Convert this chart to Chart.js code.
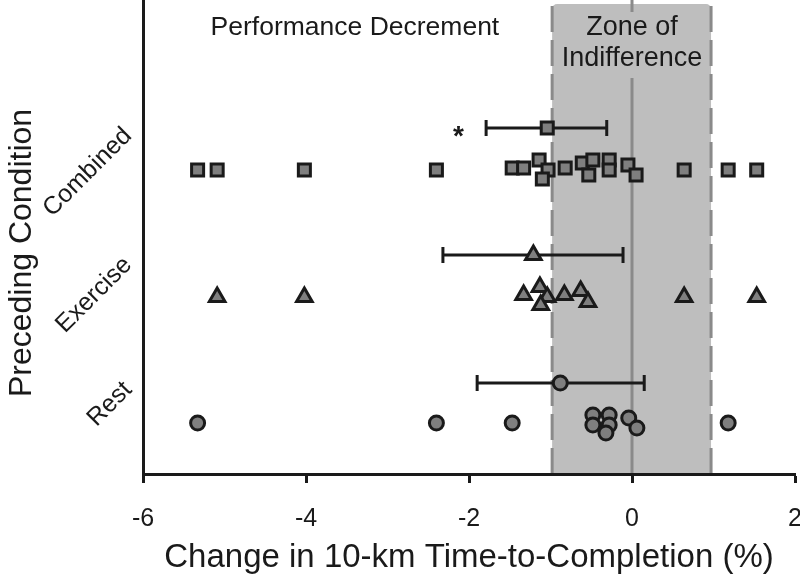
<!DOCTYPE html>
<html>
<head>
<meta charset="utf-8">
<script src="https://cdn.jsdelivr.net/npm/chart.js@4"></script>
<style>
  html, body { margin: 0; padding: 0; background: #fff; }
</style>
</head>
<body>
<canvas id="chart" width="800" height="580"></canvas>
<script>
// Change in 10-km time-to-completion (%) per subject, and row height (0 = bottom of plot)
const combinedX = [-5.33, -5.09, -4.02, -2.40, -1.47, -1.33, -1.14, -1.03, -1.10, -0.82, -0.61, -0.48, -0.53, -0.28, -0.28, -0.05, 0.05, 0.64, 1.18, 1.53];
const combinedY = [3.04, 3.04, 3.04, 3.04, 3.06, 3.06, 3.14, 3.04, 2.95, 3.06, 3.11, 3.14, 2.99, 3.14, 3.04, 3.09, 2.99, 3.04, 3.04, 3.04];

const exerciseX = [-5.09, -4.02, -1.33, -1.13, -1.04, -1.12, -0.83, -0.63, -0.54, 0.64, 1.53];
const exerciseY = [1.77, 1.77, 1.79, 1.87, 1.77, 1.69, 1.79, 1.83, 1.72, 1.77, 1.77];

const restX = [-5.33, -2.40, -1.47, -0.48, -0.28, -0.48, -0.28, -0.32, -0.04, 0.06, 1.18];
const restY = [0.51, 0.51, 0.51, 0.59, 0.59, 0.49, 0.49, 0.41, 0.56, 0.46, 0.51];

// group means with error bars (Rest, Exercise, Combined)
const conditions = ['Rest', 'Exercise', 'Combined'];
const conditionLevels = [0.88, 2.13, 3.42];
const meanX = [-0.88, -1.21, -1.04];
const meanY = [0.91, 2.19, 3.46];
const errLow = [-1.90, -2.32, -1.79];
const errHigh = [0.15, -0.11, -0.31];

const zoneEdges = [-0.98, 0.97];
const xTicks = [-6, -4, -2, 0, 2];

const ink = '#1a1a1a';
const markerFill = '#7f7f7f';
const zoneFill = '#bebebe';
const zoneLine = '#8a8a8a';
const fontFamily = '"Liberation Sans", Arial, sans-serif';

Chart.defaults.font.family = fontFamily;
Chart.defaults.color = ink;

function toPoints(xs, ys) {
  return xs.map((v, i) => ({ x: v, y: ys[i] }));
}

function markerSet(data, style, radius) {
  return {
    data: data,
    pointStyle: style,
    pointRadius: radius,
    pointBackgroundColor: markerFill,
    pointBorderColor: ink,
    pointBorderWidth: 3,
    showLine: false
  };
}

// Zone of indifference, error bars and labels drawn behind the markers
const zonePlugin = {
  id: 'zone',
  beforeDatasetsDraw(chart) {
    const { ctx, chartArea, scales: { x, y } } = chart;
    const left = x.getPixelForValue(zoneEdges[0]);
    const right = x.getPixelForValue(zoneEdges[1]);
    const zero = x.getPixelForValue(0);
    const top = chartArea.top + 4;
    const bottom = chartArea.bottom - 1;

    ctx.save();
    ctx.fillStyle = zoneFill;
    ctx.beginPath();
    ctx.roundRect(left, top, right - left, bottom - top, [5, 5, 0, 0]);
    ctx.fill();

    // zero line
    ctx.strokeStyle = zoneLine;
    ctx.lineWidth = 3;
    ctx.beginPath();
    ctx.moveTo(zero, chartArea.top);
    ctx.lineTo(zero, bottom);
    ctx.stroke();

    // backing for the zone label
    ctx.fillStyle = zoneFill;
    ctx.fillRect(zero - 40, top + 8, 80, 66);

    // dashed edges
    ctx.setLineDash([26, 8]);
    ctx.beginPath();
    ctx.moveTo(left, top + 2);
    ctx.lineTo(left, bottom);
    ctx.moveTo(right, top + 2);
    ctx.lineTo(right, bottom);
    ctx.stroke();
    ctx.setLineDash([]);

    // region labels
    ctx.fillStyle = ink;
    ctx.font = '27px ' + fontFamily;
    ctx.textAlign = 'center';
    ctx.textBaseline = 'middle';
    ctx.fillText('Zone of', zero, 28);
    ctx.fillText('Indifference', zero, 59);
    ctx.font = '26.5px ' + fontFamily;
    ctx.fillText('Performance Decrement', x.getPixelForValue(-3.4), 28);

    // error bars
    ctx.strokeStyle = ink;
    ctx.lineWidth = 3;
    for (let i = 0; i < meanX.length; i++) {
      const lo = x.getPixelForValue(errLow[i]);
      const hi = x.getPixelForValue(errHigh[i]);
      const py = y.getPixelForValue(meanY[i]);
      ctx.beginPath();
      ctx.moveTo(lo, py);
      ctx.lineTo(hi, py);
      ctx.moveTo(lo, py - 8);
      ctx.lineTo(lo, py + 8);
      ctx.moveTo(hi, py - 8);
      ctx.lineTo(hi, py + 8);
      ctx.stroke();
    }

    // significance mark
    ctx.font = 'bold 28px ' + fontFamily;
    ctx.textBaseline = 'alphabetic';
    ctx.fillText('*', x.getPixelForValue(-2.13), y.getPixelForValue(meanY[2]) + 17);

    // y axis title
    ctx.font = '32px ' + fontFamily;
    ctx.textBaseline = 'middle';
    ctx.translate(22, 253);
    ctx.rotate(-Math.PI / 2);
    ctx.fillText('Preceding Condition', 0, 0);
    ctx.restore();
  }
};

new Chart(document.getElementById('chart'), {
  type: 'scatter',
  data: {
    datasets: [
      markerSet(toPoints(combinedX, combinedY), 'rect', 8.5),
      markerSet(toPoints(exerciseX, exerciseY), 'triangle', 9),
      markerSet(toPoints(restX, restY), 'circle', 7),
      markerSet([{ x: meanX[2], y: meanY[2] }], 'rect', 8.5),
      markerSet([{ x: meanX[1], y: meanY[1] }], 'triangle', 9),
      markerSet([{ x: meanX[0], y: meanY[0] }], 'circle', 7)
    ]
  },
  options: {
    responsive: false,
    animation: false,
    devicePixelRatio: 1,
    layout: { autoPadding: false, padding: { top: 0, right: 5, bottom: 0, left: 0 } },
    plugins: { legend: { display: false }, tooltip: { enabled: false } },
    scales: {
      x: {
        type: 'linear',
        min: -6,
        max: 2,
        afterBuildTicks: s => { s.ticks = xTicks.map(v => ({ value: v })); },
        ticks: { font: { size: 25 }, padding: 21, color: ink },
        grid: { drawOnChartArea: false, tickLength: 9, tickWidth: 3, tickColor: ink },
        border: { color: ink, width: 3 },
        title: { display: true, text: 'Change in 10-km Time-to-Completion (%)', font: { size: 33 }, color: ink, padding: { top: 0, bottom: 2 } },
        afterFit: s => { s.height = 106; s.paddingLeft = 0; s.paddingRight = 0; }
      },
      y: {
        type: 'linear',
        min: 0,
        max: 4.74,
        afterBuildTicks: s => { s.ticks = conditionLevels.map(v => ({ value: v })); },
        ticks: {
          font: { size: 25 },
          color: ink,
          padding: 7,
          minRotation: 45,
          maxRotation: 45,
          callback: (v, i) => conditions[i]
        },
        grid: { display: false },
        border: { color: ink, width: 3 },
        afterFit: s => { s.width = 143; s.paddingTop = 0; s.paddingBottom = 0; }
      }
    }
  },
  plugins: [zonePlugin]
});
</script>
</body>
</html>
